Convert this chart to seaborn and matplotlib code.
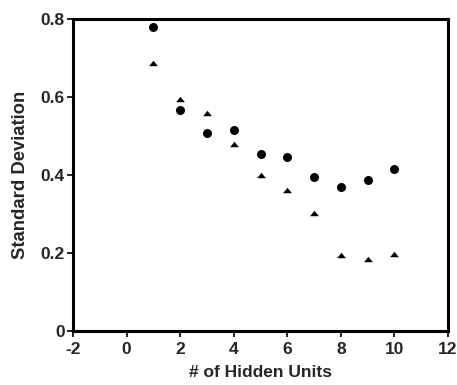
import matplotlib
matplotlib.use("Agg")
import matplotlib.pyplot as plt
import seaborn as sns
import pandas as pd

hidden_units = [1, 2, 3, 4, 5, 6, 7, 8, 9, 10]
circle_sd = [0.779, 0.567, 0.508, 0.515, 0.454, 0.446, 0.395, 0.369, 0.387, 0.415]
triangle_sd = [0.687, 0.595, 0.559, 0.479, 0.400, 0.362, 0.303, 0.195, 0.185, 0.197]
x_ticks = [-2, 0, 2, 4, 6, 8, 10, 12]
y_ticks = [0, 0.2, 0.4, 0.6, 0.8]
y_tick_labels = ["0", "0.2", "0.4", "0.6", "0.8"]

df_c = pd.DataFrame({"units": hidden_units, "sd": circle_sd})
df_t = pd.DataFrame({"units": hidden_units, "sd": triangle_sd})

sns.set_style("white")
plt.rcParams["font.family"] = ["Liberation Sans", "DejaVu Sans"]
plt.rcParams["font.weight"] = "bold"

fig = plt.figure(figsize=(4.57, 3.85), dpi=100)
ax = fig.add_axes([73 / 457, 1 - 331 / 385, (448 - 73) / 457, (331 - 19) / 385])

tri = [(-1.0, -0.62), (1.0, -0.62), (0.0, 0.62)]
sns.scatterplot(data=df_c, x="units", y="sd", marker="o", s=42,
                color="black", edgecolor="black", linewidth=0, legend=False, ax=ax)
sns.scatterplot(data=df_t, x="units", y="sd", marker=tri, s=40,
                color="black", edgecolor="black", linewidth=0, legend=False, ax=ax)

ax.set_xlim(-2, 12)
ax.set_ylim(0, 0.8)
ax.set_xticks(x_ticks)
ax.set_xticklabels([str(t) for t in x_ticks])
ax.set_yticks(y_ticks)
ax.set_yticklabels(y_tick_labels)
for sp in ax.spines.values():
    sp.set_visible(True)
    sp.set_linewidth(2.2)
    sp.set_color("black")
ax.tick_params(axis="both", direction="out", length=4, width=1.2, color="black",
               labelsize=12.5, bottom=True, left=True, pad=2)
ax.tick_params(axis="x", pad=4)
for lab in ax.get_xticklabels() + ax.get_yticklabels():
    lab.set_fontweight("bold")
ax.set_xlabel("# of Hidden Units", fontsize=12.5, fontweight="bold", labelpad=6)
ax.set_ylabel("Standard Deviation", fontsize=13.3, fontweight="bold", labelpad=8)

fig.savefig("out.png", dpi=100)
